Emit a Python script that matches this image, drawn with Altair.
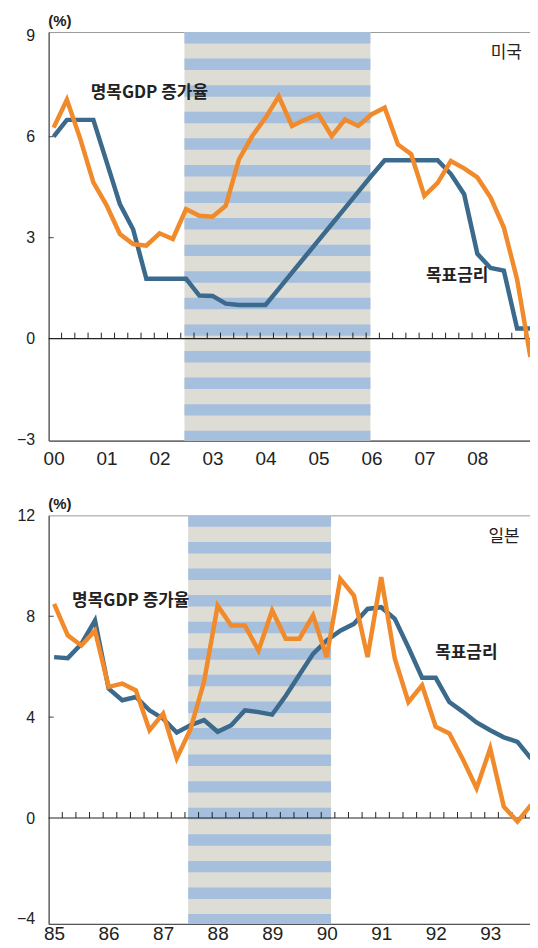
import altair as alt
import pandas as pd

# ---------------- data ----------------
US_START = 2000
US_GDP = [6.27, 7.10, 5.95, 4.64, 3.96, 3.11, 2.81, 2.76, 3.13, 2.96,
          3.85, 3.65, 3.62, 3.95, 5.33, 6.02, 6.56, 7.20, 6.32, 6.51,
          6.66, 6.02, 6.51, 6.32, 6.66, 6.86, 5.77, 5.48, 4.24, 4.63,
          5.28, 5.06, 4.79, 4.19, 3.30, 1.76, -0.54]
US_RATE = [6.00, 6.50, 6.50, 6.50, 5.25, 4.00, 3.25, 1.78, 1.78, 1.78,
           1.78, 1.28, 1.27, 1.04, 1.00, 1.00, 1.00, 1.48, 1.96, 2.44,
           2.92, 3.40, 3.88, 4.36, 4.84, 5.30, 5.30, 5.30, 5.30, 5.30,
           4.89, 4.29, 2.52, 2.10, 2.02, 0.30, 0.30]
US_SHADE = [2002.47, 2005.98]
US_YEARS = list(range(2000, 2009))
US_YTICKS = [-3, 0, 3, 6, 9]

JP_START = 1985
JP_GDP = [8.49, 7.24, 6.84, 7.43, 5.20, 5.33, 5.06, 3.48, 4.14, 2.37,
          3.51, 5.40, 8.42, 7.63, 7.63, 6.64, 8.23, 7.11, 7.11, 8.03,
          6.38, 9.48, 8.82, 6.38, 9.55, 6.32, 4.60, 5.26, 3.62, 3.35,
          2.32, 1.18, 2.76, 0.45, -0.14, 0.52]
JP_RATE = [6.38, 6.34, 6.90, 7.83, 5.13, 4.67, 4.80, 4.27, 3.94, 3.39,
           3.68, 3.88, 3.42, 3.68, 4.27, 4.20, 4.10, 4.85, 5.68, 6.51,
           7.04, 7.43, 7.70, 8.29, 8.36, 7.90, 6.76, 5.56, 5.56, 4.60,
           4.21, 3.79, 3.48, 3.20, 3.02, 2.36]
JP_SHADE = [1987.46, 1990.08]
JP_YEARS = list(range(1985, 1994))
JP_YTICKS = [-4, 0, 4, 8, 12]

LABEL_GDP = "명목GDP 증가율"
LABEL_RATE = "목표금리"
US_NAME = "미국"
JP_NAME = "일본"

# annotation anchors (data coordinates)
US_ANNO = {"gdp": (2000.70, 7.29), "rate": (2007.03, 1.85), "name": (2008.84, 8.48)}
JP_ANNO = {"gdp": (1985.33, 8.62), "rate": (1991.99, 6.55), "name": (1993.54, 11.13)}

# ---------------- style ----------------
ORANGE = "#f08a2a"
BLUE = "#3b6a8c"
STRIPE_BLUE = "#a6bfdd"
STRIPE_GRAY = "#dddcd5"
NUM_FONT = "Liberation Sans"
KR_FONT = "Noto Sans CJK KR"
W = 489
H = 410
STRIPE_PX = 26.67
STRIPE_BLUE_PX = 11.5


def panel(start, gdp, rate, shade, years, xdom, ydom, yticks, inner_ticks,
          anno, name, xlabel_pad, title_y):
    n = len(gdp)
    t = [start + i / 4 for i in range(n)]
    df_gdp = pd.DataFrame({"t": t, "v": gdp})
    df_rate = pd.DataFrame({"t": t, "v": rate})
    xs = alt.Scale(domain=xdom, nice=False, zero=False)
    ys = alt.Scale(domain=ydom, nice=False, zero=False)
    xax = alt.Axis(
        values=years, title=None, grid=False, ticks=False,
        labelExpr="slice('0' + toString(datum.value % 100), -2)",
        labelFont=NUM_FONT, labelFontSize=19, labelColor="#222",
        labelPadding=xlabel_pad, domainColor="#555", domainWidth=1.2,
        labelFlush=False)
    yax = alt.Axis(
        values=yticks, title="(%)", grid=False, ticks=False,
        labelFont=NUM_FONT, labelFontSize=16, labelColor="#222",
        labelPadding=14, domainColor="#555", domainWidth=1.2,
        titleAngle=0, titleAlign="left", titleBaseline="middle",
        titleX=-1, titleY=title_y, titleFont=NUM_FONT,
        titleFontSize=15, titleFontWeight="bold", titleColor="#222",
        labelFlush=False)
    upp = (ydom[1] - ydom[0]) / H  # data units per pixel

    def X(f):
        return alt.X(f, scale=xs, axis=xax)

    def Y(f):
        return alt.Y(f, scale=ys, axis=yax)

    # shaded background + stripes
    bands = []
    top = ydom[1]
    period = STRIPE_PX * upp
    bw = STRIPE_BLUE_PX * upp
    k = 0
    while top - k * period > ydom[0]:
        y1 = top - k * period
        y2 = max(y1 - bw, ydom[0])
        bands.append({"x1": shade[0], "x2": shade[1], "y1": y1, "y2": y2})
        k += 1
    bg = alt.Chart(pd.DataFrame({"x1": [shade[0]], "x2": [shade[1]],
                                 "y1": [ydom[0]], "y2": [ydom[1]]})).mark_rect(
        color=STRIPE_GRAY).encode(x=X("x1:Q"), x2="x2", y=Y("y1:Q"), y2="y2")
    stripes = alt.Chart(pd.DataFrame(bands)).mark_rect(color=STRIPE_BLUE).encode(
        x=X("x1:Q"), x2="x2", y=Y("y1:Q"), y2="y2")

    # zero line with small quarter ticks
    zero = alt.Chart(pd.DataFrame({"z": [0]})).mark_rule(
        color="#222", strokeWidth=1.2).encode(y=Y("z:Q"))
    qt = [start + 0.15 + i / 4 for i in range(int((xdom[1] - start - 0.15) * 4) + 1)]
    qticks = alt.Chart(pd.DataFrame({"t": qt, "z": [0] * len(qt)})).mark_rule(
        color="#222", strokeWidth=1, y2Offset=-6).encode(
        x=X("t:Q"), y=Y("z:Q"), y2="z")
    yt = alt.Chart(pd.DataFrame({"v": inner_ticks})).mark_rule(
        color="#444", strokeWidth=1).encode(
        x=alt.value(0), x2=alt.value(5), y=Y("v:Q"))

    line_rate = alt.Chart(df_rate).mark_line(
        color=BLUE, strokeWidth=4.5, clip=True).encode(x=X("t:Q"), y=Y("v:Q"))
    line_gdp = alt.Chart(df_gdp).mark_line(
        color=ORANGE, strokeWidth=4.5, clip=True).encode(x=X("t:Q"), y=Y("v:Q"))

    ann = pd.DataFrame({"x": [anno["gdp"][0], anno["rate"][0]],
                        "y": [anno["gdp"][1], anno["rate"][1]],
                        "txt": [LABEL_GDP, LABEL_RATE]})
    labels = alt.Chart(ann).mark_text(
        font=KR_FONT, fontSize=17, fontWeight="bold", align="left",
        baseline="middle", color="#222").encode(
        x=X("x:Q"), y=Y("y:Q"), text="txt:N")
    country = alt.Chart(pd.DataFrame({"x": [anno["name"][0]], "y": [anno["name"][1]],
                                      "txt": [name]})).mark_text(
        font=KR_FONT, fontSize=17, align="right", baseline="middle",
        color="#222").encode(x=X("x:Q"), y=Y("y:Q"), text="txt:N")

    return alt.layer(bg, stripes, yt, zero, qticks, line_rate, line_gdp,
                     labels, country).properties(width=W, height=H)


us_xdom = [1999.906, 1999.906 + W / 53.15]
jp_xdom = [1984.90, 1984.90 + W / 54.7]

top = panel(US_START, US_GDP, US_RATE, US_SHADE, US_YEARS, us_xdom,
            [-3.03, 9.11], US_YTICKS, [3, 6], US_ANNO, US_NAME, 9, -11.3)
bottom = panel(JP_START, JP_GDP, JP_RATE, JP_SHADE, JP_YEARS, jp_xdom,
               [-4.2, 12.0], JP_YTICKS, [4, 8], JP_ANNO, JP_NAME, 0.5, -12)

chart = alt.vconcat(top, bottom, spacing=26).properties(
    padding={"left": 7.8, "top": 3.5, "right": -8, "bottom": 0},
    background="white"
).configure_view(stroke="#999", strokeWidth=1)

chart.save("out.html", embed_options={"renderer": "svg", "actions": False})
